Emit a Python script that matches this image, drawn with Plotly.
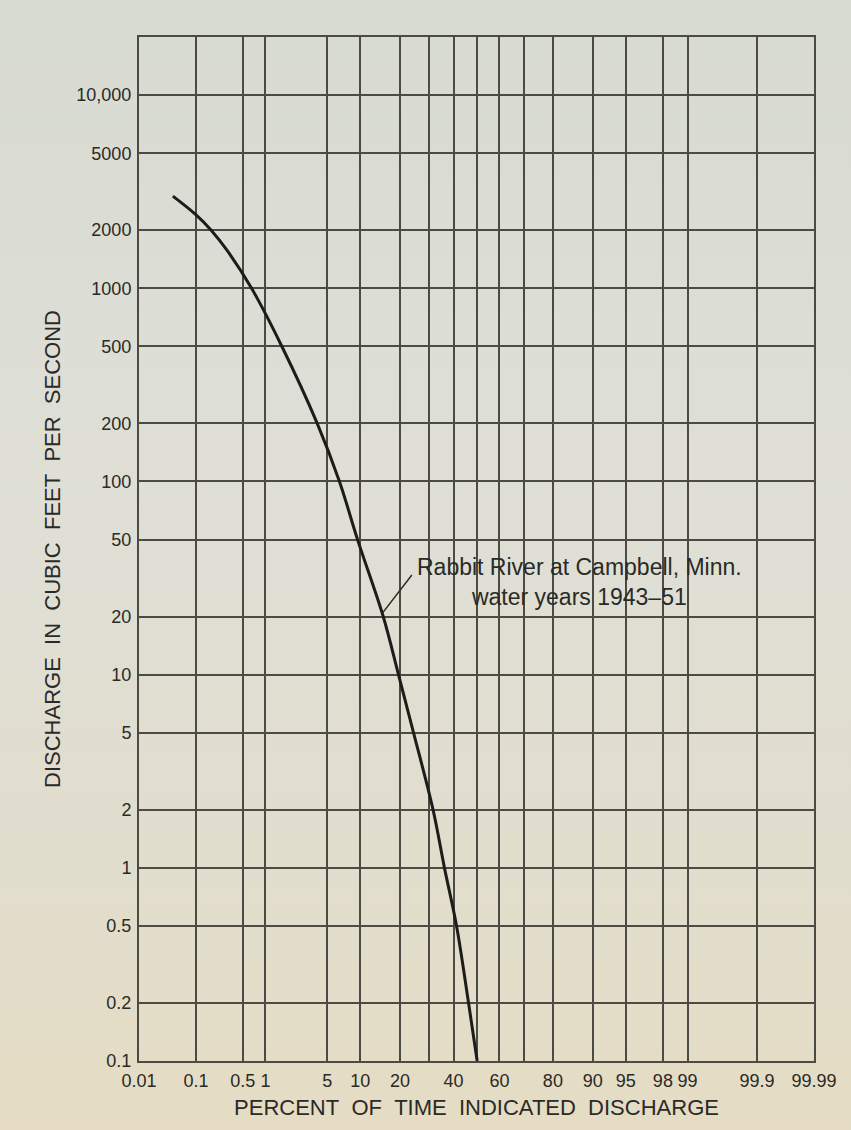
from statistics import NormalDist
import math
import plotly.graph_objects as go

# ---- data ----
pct_grid = [0.01, 0.1, 0.5, 1, 5, 10, 20, 30, 40, 50, 60, 70, 80, 90, 95, 98, 99, 99.9, 99.99]
pct_labels = ["0.01", "0.1", "0.5", "1", "5", "10", "20", "", "40", "", "60", "", "80", "90", "95", "98", "99", "99.9", "99.99"]

q_grid = [0.1, 0.2, 0.5, 1, 2, 5, 10, 20, 50, 100, 200, 500, 1000, 2000, 5000, 10000]
q_labels = ["0.1", "0.2", "0.5", "1", "2", "5", "10", "20", "50", "100", "200", "500", "1000", "2000", "5000", "10,000"]

# flow-duration curve: percent of time vs discharge (cfs)
curve_pct = [0.041, 0.1, 0.173, 0.3, 0.66, 1.6, 3.96, 6.55, 9.5, 15.2, 19.5, 24.4, 31.6, 36.2, 41.3, 46.5, 50.3]
curve_q = [3000, 2400, 2000, 1570, 1000, 500, 200, 100, 50, 20, 10, 5, 2, 1, 0.5, 0.2, 0.1]

nd = NormalDist()
def z(p):
    return nd.inv_cdf(p / 100.0)

GRID = "#4b4a43"
INK = "#2a2a26"
FONT = "Liberation Sans, Arial, sans-serif"

L, R, T, B = 139, 37, 37, 69
W, H = 851, 1130
PW, PH = W - L - R, H - T - B

bg_svg = (
    "data:image/svg+xml;utf8,"
    "<svg xmlns='http://www.w3.org/2000/svg' width='100' height='100' preserveAspectRatio='none'>"
    "<defs><linearGradient id='g' x1='0' y1='0' x2='0' y2='1'>"
    "<stop offset='0' stop-color='%23d8dbd2'/>"
    "<stop offset='0.45' stop-color='%23dfdfd6'/>"
    "<stop offset='0.8' stop-color='%23e2ddcc'/>"
    "<stop offset='1' stop-color='%23e5dcc3'/>"
    "</linearGradient></defs>"
    "<rect width='100' height='100' fill='url(%23g)'/></svg>"
)

fig = go.Figure()
fig.add_trace(go.Scatter(
    x=[z(p) for p in curve_pct], y=curve_q,
    mode="lines", line=dict(color="#1c1c1a", width=3, shape="spline", smoothing=1.0),
    showlegend=False, hoverinfo="skip"))

fig.add_annotation(
    x=z(87.2), y=math.log10(30.2), xref="x", yref="y",
    text="Rabbit River at Campbell, Minn.<br>water years 1943\u201351",
    showarrow=False, font=dict(family=FONT, size=23, color=INK),
    xanchor="center", yanchor="middle", align="center")
# leader line from the text to the curve
fig.add_annotation(
    x=z(14.9), y=math.log10(20.7), xref="x", yref="y",
    ax=z(24.2), ay=math.log10(33.4), axref="x", ayref="y",
    showarrow=True, arrowhead=0, arrowwidth=1.5, arrowcolor=INK, text="")

fig.add_layout_image(
    source=bg_svg, xref="paper", yref="paper",
    x=-L / PW, y=1 + T / PH, sizex=W / PW, sizey=H / PH,
    xanchor="left", yanchor="top", sizing="stretch", layer="below")

fig.update_layout(
    width=W, height=H,
    margin=dict(l=L, r=R, t=T, b=B),
    paper_bgcolor="#dcdcd2", plot_bgcolor="rgba(0,0,0,0)",
    font=dict(family=FONT, color=INK),
    xaxis=dict(
        range=[z(0.01), z(99.99)],
        tickvals=[z(p) for p in pct_grid], ticktext=pct_labels,
        showgrid=True, gridcolor=GRID, gridwidth=1.5,
        showline=True, linecolor=GRID, linewidth=2, mirror=True,
        ticks="", tickfont=dict(size=18, family=FONT, color=INK),
        ticklabelstandoff=2, zeroline=False,
        title=dict(text="PERCENT\u00a0\u00a0OF\u00a0\u00a0TIME\u00a0\u00a0INDICATED\u00a0\u00a0DISCHARGE",
                   font=dict(size=22, family=FONT, color=INK), standoff=10),
    ),
    yaxis=dict(
        type="log", range=[-1, math.log10(20000)],
        tickvals=q_grid, ticktext=q_labels,
        showgrid=True, gridcolor=GRID, gridwidth=1.5,
        showline=True, linecolor=GRID, linewidth=2, mirror=True,
        ticks="", tickfont=dict(size=18, family=FONT, color=INK),
        ticklabelstandoff=2, zeroline=False,
        title=dict(text="DISCHARGE\u00a0\u00a0IN\u00a0\u00a0CUBIC\u00a0\u00a0FEET\u00a0\u00a0PER\u00a0\u00a0SECOND",
                   font=dict(size=22, family=FONT, color=INK), standoff=10),
    ),
)

fig.write_html("out.html", config={"displayModeBar": False},
               post_script="document.body.style.margin='0';document.body.style.overflow='hidden';")
